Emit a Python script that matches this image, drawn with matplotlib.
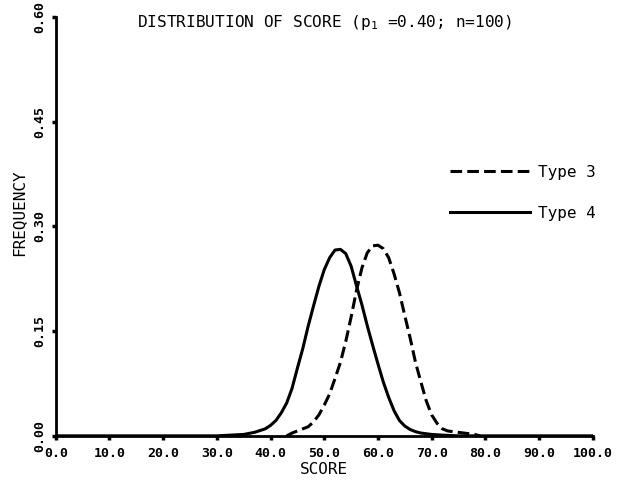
import matplotlib
matplotlib.use('Agg')
import matplotlib.pyplot as plt

# scores on the x axis and frequencies
score_t4 = [0, 30, 35, 37, 39, 40, 41, 42, 43, 44, 45, 46, 47, 48, 49, 50, 51, 52, 53,
            54, 55, 56, 57, 58, 59, 60, 61, 62, 63, 64, 65, 66, 67, 68, 70, 72, 75, 100]
freq_t4 = [0, 0, 0.002, 0.005, 0.010, 0.015, 0.022, 0.033, 0.047, 0.068, 0.097, 0.125,
           0.157, 0.186, 0.214, 0.238, 0.255, 0.266, 0.267, 0.261, 0.243, 0.215, 0.188,
           0.158, 0.130, 0.103, 0.077, 0.055, 0.036, 0.022, 0.014, 0.009, 0.006, 0.004,
           0.002, 0.001, 0, 0]

score_t3 = [43, 44, 45, 46, 47, 48, 49, 50, 51, 52, 53, 54, 55, 56, 57, 58, 59, 60, 61,
            62, 63, 64, 65, 66, 67, 68, 69, 70, 71, 72, 73, 74, 76, 78, 79]
freq_t3 = [0.0, 0.004, 0.007, 0.010, 0.013, 0.020, 0.030, 0.044, 0.060, 0.082, 0.105,
           0.135, 0.170, 0.208, 0.240, 0.262, 0.272, 0.273, 0.268, 0.255, 0.232, 0.205,
           0.172, 0.140, 0.105, 0.077, 0.050, 0.030, 0.018, 0.010, 0.007, 0.006, 0.004,
           0.002, 0]

xticks = [0, 10, 20, 30, 40, 50, 60, 70, 80, 90, 100]
yticks = [0.0, 0.15, 0.30, 0.45, 0.60]

plt.rcParams['font.family'] = ['DejaVu Sans Mono', 'DejaVu Sans']
plt.rcParams['mathtext.default'] = 'regular'

fig = plt.figure(figsize=(6.2, 4.8), dpi=100)
ax = fig.add_axes([0.090, 0.092, 0.866, 0.873])

ax.plot(score_t3, freq_t3, color='black', lw=2.2, dashes=(3.8, 1.7), label='Type 3')
ax.plot(score_t4, freq_t4, color='black', lw=2.2, label='Type 4')

ax.set_xlim(0, 100)
ax.set_ylim(0, 0.60)
ax.set_xticks(xticks)
ax.set_xticklabels([f'{v:.1f}' for v in xticks], fontweight='bold')
ax.set_yticks(yticks)
ax.set_yticklabels([f'{v:.2f}' for v in yticks], rotation=90, va='center', fontweight='bold')
ax.tick_params(direction='out', length=3, width=2.5, labelsize=9.5)
ax.tick_params(axis='x', pad=5)
ax.tick_params(axis='y', pad=4)

for s in ['top', 'right']:
    ax.spines[s].set_visible(False)
for s in ['left', 'bottom']:
    ax.spines[s].set_linewidth(2)

fig.text(0.523, 1 - 470 / 480, 'SCORE', ha='center', va='center', fontsize=11.5)
fig.text(0.031, 0.556, 'FREQUENCY', rotation=90, ha='center', va='center', fontsize=11.5)

fig.text(0.523, 0.954, 'DISTRIBUTION OF SCORE (p$_1$ =0.40; n=100)',
         ha='center', va='center', fontsize=11.6)

ax.legend(loc='upper left', bbox_to_anchor=(450 / 620, 1 - 165 / 480),
          bbox_transform=fig.transFigure, frameon=False, fontsize=11.5,
          handlelength=5.0, handletextpad=0.5, labelspacing=1.6,
          borderpad=0, borderaxespad=0)

fig.savefig('out.png', dpi=100)
